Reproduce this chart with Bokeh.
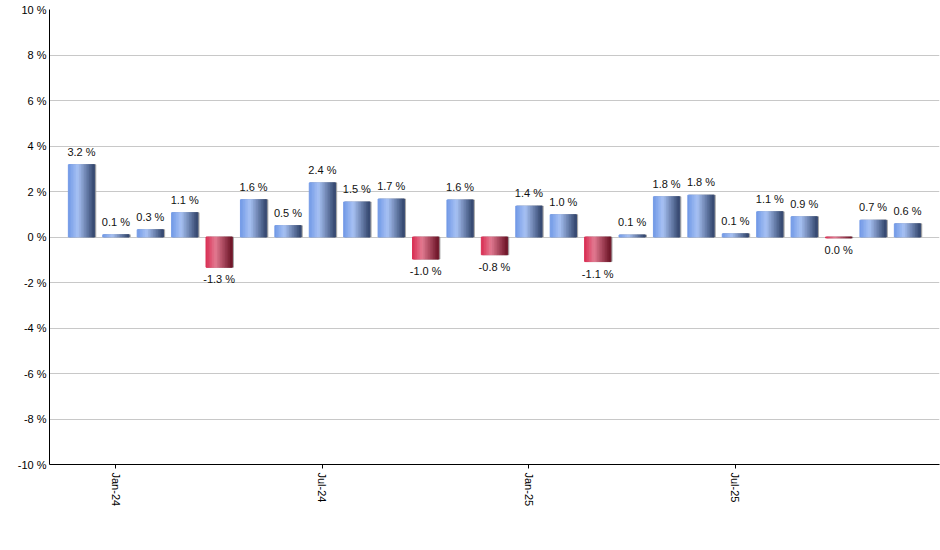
#! /usr/bin/env python3
#
# Monthly change in percent, Dec-23 .. Dec-25, as a bar chart with
# blue bars for gains and red bars for losses.

from bokeh.core.properties import value
from bokeh.embed import file_html
from bokeh.models import ColumnDataSource, FixedTicker, PrintfTickFormatter
from bokeh.plotting import figure
from bokeh.resources import INLINE

months = [
    "Dec-23", "Jan-24", "Feb-24", "Mar-24", "Apr-24", "May-24", "Jun-24",
    "Jul-24", "Aug-24", "Sep-24", "Oct-24", "Nov-24", "Dec-24", "Jan-25",
    "Feb-25", "Mar-25", "Apr-25", "May-25", "Jun-25", "Jul-25", "Aug-25",
    "Sep-25", "Oct-25", "Nov-25", "Dec-25",
]
change = [
    3.18, 0.10, 0.32, 1.07, -1.33, 1.64, 0.50,
    2.38, 1.54, 1.67, -0.97, 1.63, -0.78, 1.36,
    0.98, -1.08, 0.09, 1.77, 1.84, 0.14, 1.11,
    0.89, -0.04, 0.74, 0.58,
]
tick_months = ["Jan-24", "Jul-24", "Jan-25", "Jul-25"]

BLUE = [(0.0, "#6f97e6"), (0.38, "#a8c2f4"), (1.0, "#33466d")]
RED = [(0.0, "#d92a50"), (0.38, "#e37b92"), (1.0, "#6c1427")]


def hex_rgb(h):
    return tuple(int(h[i:i + 2], 16) for i in (1, 3, 5))


def grad(stops, t):
    for (t0, c0), (t1, c1) in zip(stops, stops[1:]):
        if t <= t1:
            f = (t - t0) / (t1 - t0)
            a, b = hex_rgb(c0), hex_rgb(c1)
            return "#%02x%02x%02x" % tuple(round(x + (y - x) * f) for x, y in zip(a, b))
    return stops[-1][1]


def main():
    xs = list(range(len(months)))
    width = 0.76
    n = 16

    # split every bar into thin strips to fake the horizontal gradient
    strips = dict(x=[], top=[], color=[])
    for x, v in zip(xs, change):
        stops = BLUE if v >= 0 else RED
        for j in range(n):
            t = (j + 0.5) / n
            strips["x"].append(x - width / 2 + t * width)
            strips["top"].append(v)
            strips["color"].append(grad(stops, t))

    labels = []
    for v in change:
        s = "%.1f %%" % v
        labels.append(s.replace("-0.0", "0.0"))
    pos = [i for i, v in enumerate(change) if v >= 0]
    neg = [i for i, v in enumerate(change) if v < 0]

    p = figure(
        width=940, height=540,
        x_range=(-0.93, len(months) - 0.07), y_range=(-10, 10),
        output_backend="svg", toolbar_location=None,
        min_border_left=49, min_border_right=1, min_border_top=9,
        min_border_bottom=76,
    )
    p.outline_line_color = None
    p.background_fill_color = "white"
    p.border_fill_color = "white"

    # thin shadow on the right side of each bar
    p.vbar(x=[x + 0.035 for x in xs], top=change, bottom=0, width=width,
           color="#9a9a9a", alpha=0.8)
    p.vbar(x="x", top="top", bottom=0, width=width / n * 1.08, color="color",
           source=ColumnDataSource(strips))

    font = value("Liberation Sans")
    p.text(x=[xs[i] for i in pos], y=[change[i] for i in pos],
           text=[labels[i] for i in pos], text_font=font, text_font_size="11px",
           text_color="#111111", text_align="center", text_baseline="bottom",
           y_offset=-7)
    p.text(x=[xs[i] for i in neg], y=[change[i] for i in neg],
           text=[labels[i] for i in neg], text_font=font, text_font_size="11px",
           text_color="#111111", text_align="center", text_baseline="top",
           y_offset=6)

    p.xgrid.grid_line_color = None
    p.ygrid.grid_line_color = "#c8c8c8"
    p.ygrid.ticker = FixedTicker(ticks=list(range(-10, 11, 2)))

    p.yaxis.ticker = FixedTicker(ticks=list(range(-10, 11, 2)))
    p.yaxis.formatter = PrintfTickFormatter(format="%d %%")
    p.yaxis.major_tick_out = 0
    p.yaxis.major_tick_in = 0
    p.yaxis.minor_tick_line_color = None
    p.yaxis.major_label_standoff = 3

    tick_pos = [months.index(m) for m in tick_months]
    p.xaxis.ticker = FixedTicker(ticks=tick_pos)
    p.xaxis.major_label_overrides = {i: months[i] for i in tick_pos}
    p.xaxis.major_label_orientation = "vertical"
    p.xaxis.major_tick_out = 4
    p.xaxis.major_tick_in = 0
    p.xaxis.minor_tick_line_color = None
    p.xaxis.major_label_standoff = 4

    for ax in (p.xaxis, p.yaxis):
        ax.axis_line_color = "black"
        ax.major_tick_line_color = "black"
        ax.major_label_text_font = "Liberation Sans"
        ax.major_label_text_font_size = "11px"
        ax.major_label_text_color = "black"

    open("out.html", "w").write(file_html(p, INLINE))


if __name__ == "__main__":
    main()
